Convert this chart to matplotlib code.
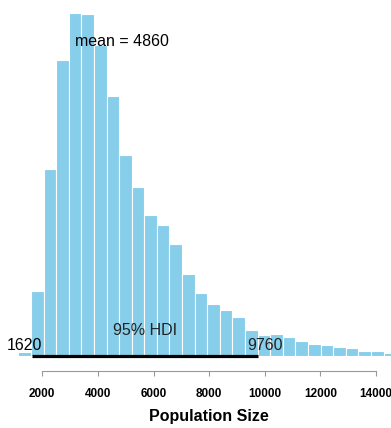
import matplotlib
matplotlib.use("Agg")
import matplotlib.pyplot as plt
import matplotlib.transforms as mtransforms
import numpy as np

# ---- data ----
bin_start = 1138
bin_width = 453
counts = [43, 650, 1867, 2960, 3433, 3420, 3110, 2600, 2010, 1690,
          1410, 1313, 1120, 823, 633, 523, 460, 387, 260, 213,
          223, 187, 153, 120, 107, 87, 77, 47, 47, 33]
mean_val = 4860
hdi_low, hdi_high = 1620, 9760
xticks = [2000, 4000, 6000, 8000, 10000, 12000, 14000]
xlabel = "Population Size"

plt.rcParams['font.family'] = ['Liberation Sans', 'DejaVu Sans']

fig = plt.figure(figsize=(3.91, 4.28), dpi=100)
ax = fig.add_axes([0, 57/428, 1, 371/428])

lefts = bin_start + bin_width * np.arange(len(counts))
ax.bar(lefts, counts, width=bin_width, align='edge', color='#87CEEB',
       edgecolor='white', linewidth=0.8, zorder=1)

ax.set_xlim(479, 14539)
ax.set_ylim(-150, 3560)

# HDI line
ax.plot([hdi_low, hdi_high], [0, 0], color='black', lw=2.3,
        solid_capstyle='butt', zorder=3)

# texts
ax.text(mean_val, 3100, f"mean = {mean_val}", ha='center', va='baseline',
        fontsize=11.5, color='black', zorder=4)
ax.text((hdi_low + hdi_high) / 2, 210, "95% HDI", ha='center', va='baseline',
        fontsize=11.5, color='#222222', zorder=4)
off_l = mtransforms.offset_copy(ax.transData, fig=fig, x=-5.3, y=0, units='points')
off_r = mtransforms.offset_copy(ax.transData, fig=fig, x=5.3, y=0, units='points')
ax.text(hdi_low, 60, f"{hdi_low}", ha='center', va='baseline', fontsize=11.5,
        color='black', transform=off_l, zorder=4)
ax.text(hdi_high, 60, f"{hdi_high}", ha='center', va='baseline', fontsize=11.5,
        color='#222222', transform=off_r, zorder=4)

# axes styling
for s in ['top', 'left', 'right']:
    ax.spines[s].set_visible(False)
ax.spines['bottom'].set_color('#999999')
ax.spines['bottom'].set_linewidth(0.8)
ax.spines['bottom'].set_bounds(xticks[0], xticks[-1])
ax.set_yticks([])
ax.set_xticks(xticks)
ax.set_xticklabels([str(t) for t in xticks], fontsize=8.5, fontweight='bold')
ax.tick_params(axis='x', direction='out', length=3.6, width=0.8,
               color='#999999', pad=8.5)

ax.set_xlabel(xlabel, fontsize=11.5, fontweight='bold', va='baseline')
ax.xaxis.set_label_coords(209/391, -0.134)

fig.savefig("out.png", dpi=100)
